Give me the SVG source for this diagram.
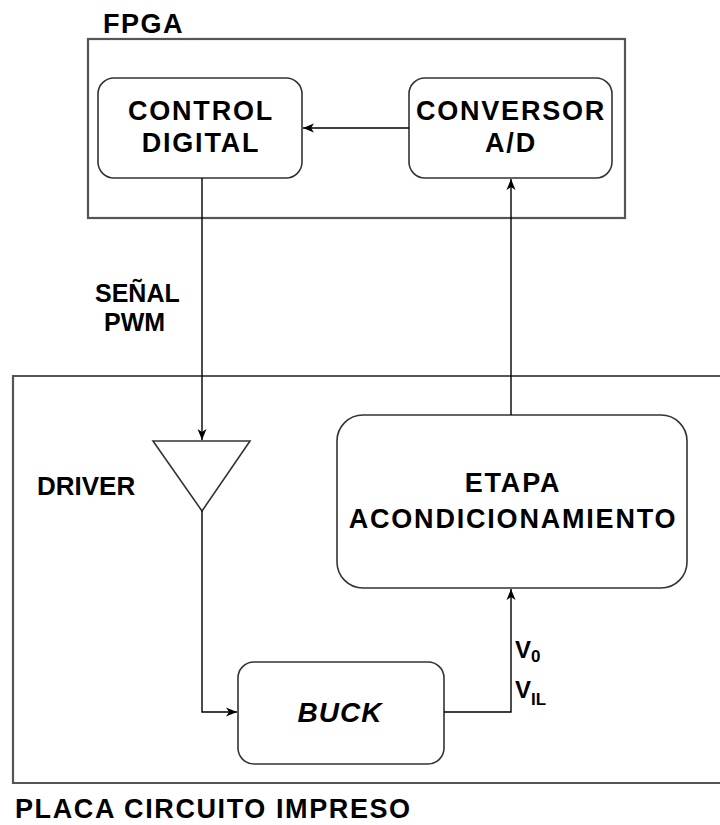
<svg xmlns="http://www.w3.org/2000/svg" width="720" height="825" viewBox="0 0 720 825">
<style>
text{font-family:"Liberation Sans",Arial,sans-serif;font-weight:bold;fill:#000;}
.lbl{font-size:27px;letter-spacing:1.8px;text-anchor:middle;}
.free{font-size:26px;}
.box{fill:#fff;stroke:#333;stroke-width:1.6;}
.frame{fill:none;stroke:#555;stroke-width:2.2;}
.conn{fill:none;stroke:#000;stroke-width:1.4;}
</style>
<defs>
<marker id="arr" markerUnits="userSpaceOnUse" markerWidth="12" markerHeight="10" refX="11" refY="5" orient="auto">
<path d="M0,0.5 L11,5 L0,9.5 L3,5 z" fill="#000"/>
</marker>
</defs>
<g id="fpga">
<rect class="frame" x="88" y="39" width="537" height="179"/>
<text class="free" x="103" y="33" style="font-size:27px;letter-spacing:1.5px">FPGA</text>
</g>
<g id="pcb">
<path class="frame" d="M740,376 L13,376 L13,783 L740,783"/>
<text class="free" x="15" y="818" style="font-size:27px;letter-spacing:1.6px">PLACA CIRCUITO IMPRESO</text>
</g>
<g id="control">
<rect class="box" x="98" y="78" width="204" height="100" rx="16"/>
<text class="lbl" x="201" y="120">CONTROL</text>
<text class="lbl" x="201" y="152">DIGITAL</text>
</g>
<g id="conversor">
<rect class="box" x="409" y="78" width="203" height="100" rx="16"/>
<text class="lbl" x="511" y="120">CONVERSOR</text>
<text class="lbl" x="511" y="152">A/D</text>
</g>
<g id="etapa">
<rect class="box" x="337" y="415" width="350" height="173" rx="26"/>
<text class="lbl" x="513" y="492">ETAPA</text>
<text class="lbl" x="513" y="528">ACONDICIONAMIENTO</text>
</g>
<g id="driver">
<polygon class="box" points="153,441 250,441 202,511"/>
<text class="free" x="37" y="495">DRIVER</text>
</g>
<g id="buck">
<rect class="box" x="238" y="662" width="206" height="102" rx="16"/>
<text x="340" y="722" style="font-size:28px;font-style:italic;letter-spacing:1px;text-anchor:middle">BUCK</text>
</g>
<g id="connectors">
<path class="conn" d="M409,128 L303,128" marker-end="url(#arr)"/>
<path class="conn" d="M202,178 L202,440" marker-end="url(#arr)"/>
<path class="conn" d="M511,415 L511,179" marker-end="url(#arr)"/>
<path class="conn" d="M202,511 L202,712 L237,712" marker-end="url(#arr)"/>
<path class="conn" d="M444,712 L511,712 L511,589" marker-end="url(#arr)"/>
<text class="free" x="95" y="302" style="font-size:25px">SEÑAL</text>
<text class="free" x="104" y="331" style="font-size:25px">PWM</text>
<text class="free" x="515" y="658" style="font-size:24px">V<tspan style="font-size:17px" dy="4">0</tspan></text>
<text class="free" x="515" y="698" style="font-size:24px">V<tspan style="font-size:17px" dy="7">IL</tspan></text>
</g>
</svg>
